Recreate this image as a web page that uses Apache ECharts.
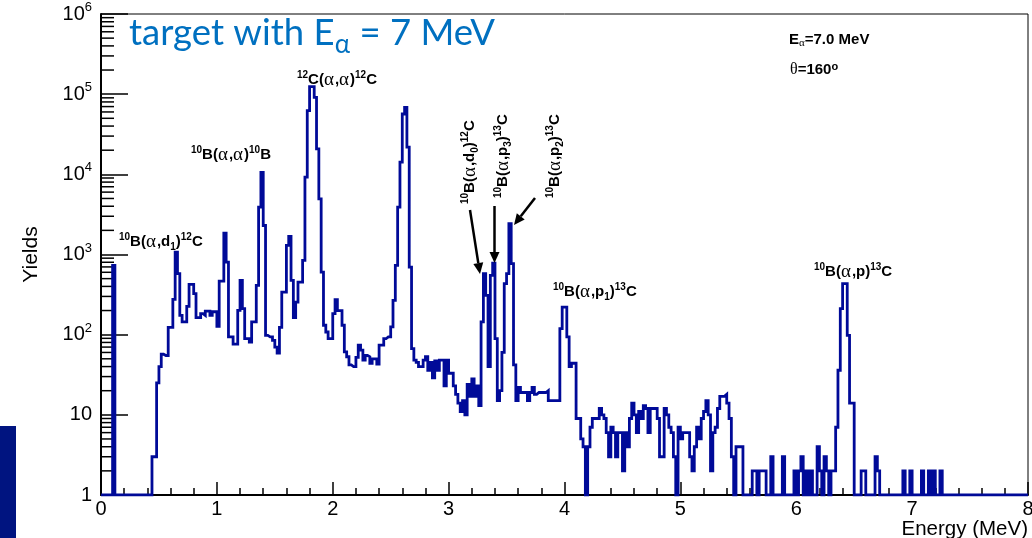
<!DOCTYPE html>
<html>
<head>
<meta charset="utf-8">
<script src="https://cdn.jsdelivr.net/npm/echarts@6/dist/echarts.min.js"></script>
<style>
  html, body { margin: 0; padding: 0; background: #ffffff; }
  #chart { width: 1032px; height: 538px; }
</style>
</head>
<body>
<div id="chart"></div>
<script>
// Spectrum channels: 0.02 MeV wide, counts per channel (0 = empty channel)
const BIN_WIDTH = 0.02;

const yield0to1MeV = [
  0, 0, 0, 0, 0, 730, 0, 0, 0, 0,
  0, 0, 0, 0, 0, 0, 0, 0, 0, 0,
  0, 0, 3, 3, 25, 40, 57, 55, 55, 123,
  123, 276, 1070, 577, 174, 144, 144, 226, 425, 425,
  325, 163, 163, 183, 174, 197, 197, 174, 193, 193
];
const yield1to2MeV = [
  127, 466, 466, 1850, 804, 94, 94, 76, 76, 201,
  476, 211, 89, 89, 81, 144, 144, 412, 3890, 10600,
  2300, 98, 94, 94, 85, 70, 59, 123, 340, 340,
  1300, 1680, 476, 163, 255, 453, 453, 845, 9230, 62300,
  124000, 124000, 91200, 20800, 4950, 604, 131, 108, 89, 89
];
const yield2to3MeV = [
  183, 273, 200, 200, 131, 61, 53, 42, 40, 40,
  52, 74, 64, 48, 55, 53, 44, 50, 50, 43,
  74, 74, 89, 94, 94, 125, 268, 731, 3890, 14200,
  56600, 68500, 21800, 697, 67, 48, 45, 40, 40, 48,
  53, 36, 45, 29, 47, 36, 48, 48, 23, 48
];
const yield3to4MeV = [
  33, 33, 23, 18, 14, 11, 15, 10, 24, 17,
  28, 17, 23, 13, 144, 577, 310, 40, 550, 782,
  89, 15, 20, 60, 434, 577, 2420, 771, 42, 15,
  22, 19, 19, 19, 15, 19, 22, 18, 19, 19,
  19, 19, 20, 15, 15, 15, 15, 15, 119, 220
];
const yield4to5MeV = [
  220, 94, 40, 44, 44, 9, 9, 5, 4, 0,
  4, 7, 9, 9, 9, 12, 10, 9, 6, 3,
  7, 6, 3, 6, 6, 2, 6, 4, 9, 14,
  10, 6, 11, 9, 13, 12, 6, 12, 12, 12,
  9, 3, 3, 12, 10, 7, 6, 3, 0, 7
];
const yield5to6MeV = [
  5, 6, 6, 6, 3, 2, 4, 7, 5, 9,
  11, 15, 10, 2, 6, 7, 12, 17, 17, 18,
  14, 9, 3, 0, 4, 4, 4, 0, 0, 0,
  0, 2, 2, 0, 2, 2, 2, 0, 0, 3,
  0, 0, 0, 0, 3, 0, 0, 0, 0, 2
];
const yield6to7MeV = [
  0, 2, 3, 0, 2, 0, 2, 0, 0, 4,
  2, 0, 3, 2, 0, 2, 2, 7, 36, 211,
  434, 434, 98, 14, 14, 0, 0, 0, 2, 2,
  0, 0, 0, 0, 3, 2, 0, 0, 0, 0,
  0, 0, 0, 0, 0, 0, 2, 0, 0, 2
];
const yield7to8MeV = [
  0, 0, 0, 0, 2, 0, 0, 2, 0, 2,
  0, 0, 2, 0, 0, 0, 0, 0, 0, 0,
  0, 0, 0, 0, 0, 0, 0, 0, 0, 0,
  0, 0, 0, 0, 0, 0, 0, 0, 0, 0,
  0, 0, 0, 0, 0, 0, 0, 0, 0, 0
];

// Axis ticks
const energyTicks = [0, 1, 2, 3, 4, 5, 6, 7, 8];
const yieldDecades = [0, 1, 2, 3, 4, 5, 6];   // exponents of 10

// Texts
const xAxisTitle = 'Energy (MeV)';
const yAxisTitle = 'Yields';
const headline = '{m|target with E}{sub|α}{m| = 7 MeV}';
const beamText = '{b|E}{sa|α}{b|=7.0 MeV}';
const angleText = '{g|θ}{b|=160}{sup|o}';
const labelD1 = [['sup', '10'], ['b', 'B('], ['g', 'α'], ['b', ',d'], ['sub', '1'], ['b', ')'], ['sup', '12'], ['b', 'C']];
const labelAA = [['sup', '10'], ['b', 'B('], ['g', 'α'], ['b', ','], ['g', 'α'], ['b', ')'], ['sup', '10'], ['b', 'B']];
const labelC12 = [['sup', '12'], ['b', 'C('], ['g', 'α'], ['b', ','], ['g', 'α'], ['b', ')'], ['sup', '12'], ['b', 'C']];
const labelD0 = [['sup', '10'], ['b', 'B('], ['g', 'α'], ['b', ',d'], ['sub', '0'], ['b', ')'], ['sup', '12'], ['b', 'C']];
const labelP3 = [['sup', '10'], ['b', 'B('], ['g', 'α'], ['b', ',p'], ['sub', '3'], ['b', ')'], ['sup', '13'], ['b', 'C']];
const labelP2 = [['sup', '10'], ['b', 'B('], ['g', 'α'], ['b', ',p'], ['sub', '2'], ['b', ')'], ['sup', '13'], ['b', 'C']];
const labelP1 = [['sup', '10'], ['b', 'B('], ['g', 'α'], ['b', ',p'], ['sub', '1'], ['b', ')'], ['sup', '13'], ['b', 'C']];
const labelP0 = [['sup', '10'], ['b', 'B('], ['g', 'α'], ['b', ',p)'], ['sup', '13'], ['b', 'C']];

// ---------------------------------------------------------------
const SANS = '"Liberation Sans", Arial, Helvetica, sans-serif';
const GREEK = '"Liberation Serif", "DejaVu Serif", serif';
const SLIDE = 'Lato, "Open Sans", sans-serif';
const LINE_BLUE = '#000a98';
const FLOOR = 1;   // empty channels sit on the bottom of the log axis

const counts = [].concat(yield0to1MeV, yield1to2MeV, yield2to3MeV, yield3to4MeV,
                         yield4to5MeV, yield5to6MeV, yield6to7MeV, yield7to8MeV);
const histPoints = counts.map((c, i) => [i * BIN_WIDTH, Math.max(c, FLOOR)]);
histPoints.push([counts.length * BIN_WIDTH, Math.max(counts[counts.length - 1], FLOOR)]);

// log minor ticks: 2..9 x 10^n
const minorYTicks = [];
for (let d = 0; d < yieldDecades.length - 1; d++) {
  for (let m = 2; m <= 9; m++) minorYTicks.push([0, m * Math.pow(10, yieldDecades[d])]);
}

const toRich = parts => parts.map(([k, t]) => '{' + k + '|' + t + '}').join('');

const annoRich = {
  b:   { fontFamily: SANS, fontWeight: 'bold', fontSize: 15, lineHeight: 20, verticalAlign: 'middle', fill: '#000' },
  g:   { fontFamily: GREEK, fontSize: 19, lineHeight: 20, verticalAlign: 'middle', fill: '#000', padding: [0, 1, 0, 0] },
  sup: { fontFamily: SANS, fontWeight: 'bold', fontSize: 10, lineHeight: 10, verticalAlign: 'top', fill: '#000' },
  sub: { fontFamily: SANS, fontWeight: 'bold', fontSize: 10, lineHeight: 10, verticalAlign: 'bottom', fill: '#000' }
};

function anno(parts, x, y, rotated) {
  return {
    type: 'text', x: x, y: y, rotation: rotated ? Math.PI / 2 : 0, z: 100,
    style: { text: toRich(parts), rich: annoRich, align: 'left', verticalAlign: 'bottom' }
  };
}

function arrow(x1, y1, x2, y2) {
  const ang = Math.atan2(y2 - y1, x2 - x1);
  const len = 11, half = 5;
  const bx = x2 - len * Math.cos(ang), by = y2 - len * Math.sin(ang);
  const nx = -Math.sin(ang) * half, ny = Math.cos(ang) * half;
  return [
    { type: 'line', z: 100, shape: { x1: x1, y1: y1, x2: bx, y2: by }, style: { stroke: '#000', lineWidth: 2.5 } },
    { type: 'polygon', z: 100, shape: { points: [[x2, y2], [bx + nx, by + ny], [bx - nx, by - ny]] }, style: { fill: '#000' } }
  ];
}

const chart = echarts.init(document.getElementById('chart'), null, { renderer: 'canvas' });

chart.setOption({
  animation: false,
  backgroundColor: '#ffffff',
  grid: {
    left: 101, right: 4, top: 14, bottom: 43,
    containLabel: false, outerBoundsMode: 'none',
    show: true, borderColor: '#000', borderWidth: 1
  },
  xAxis: {
    type: 'value', min: energyTicks[0], max: energyTicks[energyTicks.length - 1], interval: 1,
    name: xAxisTitle, nameLocation: 'end', nameGap: 0,
    nameTextStyle: { fontFamily: SANS, fontSize: 20.5, color: '#000', align: 'right', verticalAlign: 'top', padding: [24, 0, 0, 0] },
    axisLine: { show: true, onZero: false, lineStyle: { color: '#000', width: 2 } },
    axisTick: { show: true, inside: true, length: 13, lineStyle: { color: '#000', width: 1.5 } },
    minorTick: { show: true, splitNumber: 5, length: 7, lineStyle: { color: '#000', width: 1.5 } },
    splitLine: { show: false },
    axisLabel: { fontFamily: SANS, fontSize: 20, color: '#000', margin: 4, showMinLabel: true, showMaxLabel: true, hideOverlap: false }
  },
  yAxis: {
    type: 'log', logBase: 10, min: Math.pow(10, yieldDecades[0]), max: Math.pow(10, yieldDecades[yieldDecades.length - 1]),
    splitNumber: 6,
    name: yAxisTitle, nameLocation: 'middle', nameRotate: 90, nameGap: 59,
    nameTextStyle: { fontFamily: SANS, fontSize: 21, color: '#000' },
    axisLine: { show: true, lineStyle: { color: '#000', width: 2 } },
    axisTick: { show: true, inside: true, length: 27, lineStyle: { color: '#000', width: 1.5 } },
    minorTick: { show: false },
    splitLine: { show: false },
    axisLabel: {
      fontFamily: SANS, fontSize: 20, color: '#000', margin: 9, lineHeight: 26,
      showMinLabel: true, showMaxLabel: true, hideOverlap: false,
      formatter: v => {
        const e = Math.round(Math.log10(v));
        if (e === 0) return '1';
        if (e === 1) return '10';
        return '10{e|' + e + '}';
      },
      rich: { e: { fontFamily: SANS, fontSize: 13, lineHeight: 13, verticalAlign: 'top', color: '#000' } }
    }
  },
  series: [
    {
      type: 'line', step: 'end', data: histPoints, showSymbol: false, symbol: 'none',
      lineStyle: { color: LINE_BLUE, width: 2.8, join: 'miter' }, z: 5, clip: true
    },
    {
      type: 'custom', data: minorYTicks, silent: true, clip: false, z: 4,
      renderItem: (params, api) => {
        const p = api.coord([api.value(0), api.value(1)]);
        return { type: 'line', shape: { x1: p[0], y1: p[1], x2: p[0] + 13, y2: p[1] }, style: { stroke: '#000', lineWidth: 1.5 } };
      }
    }
  ],
  graphic: [
    { type: 'rect', z: 100, shape: { x: 0, y: 426, width: 16, height: 112 }, style: { fill: '#001480' } },
    {
      type: 'text', x: 129, y: 15, z: 100,
      style: {
        text: headline, align: 'left', verticalAlign: 'top',
        rich: {
          m: { fill: '#0070C0', fontFamily: SLIDE, fontSize: 36.5, lineHeight: 40, verticalAlign: 'top' },
          sub: { fill: '#0070C0', fontFamily: SLIDE, fontSize: 26, lineHeight: 26, verticalAlign: 'top', padding: [17, 0, 0, 0] }
        }
      }
    },
    {
      type: 'text', x: 789, y: 49, z: 100,
      style: {
        text: beamText, align: 'left', verticalAlign: 'bottom',
        rich: {
          b: { fontFamily: SANS, fontWeight: 'bold', fontSize: 15, lineHeight: 18, verticalAlign: 'middle', fill: '#000' },
          sa: { fontFamily: GREEK, fontSize: 11, lineHeight: 10, verticalAlign: 'bottom', fill: '#000' }
        }
      }
    },
    {
      type: 'text', x: 790, y: 79, z: 100,
      style: {
        text: angleText, align: 'left', verticalAlign: 'bottom',
        rich: {
          b: { fontFamily: SANS, fontWeight: 'bold', fontSize: 15, lineHeight: 18, verticalAlign: 'middle', fill: '#000' },
          g: { fontFamily: GREEK, fontSize: 16, lineHeight: 18, verticalAlign: 'middle', fill: '#000' },
          sup: { fontFamily: SANS, fontWeight: 'bold', fontSize: 11, lineHeight: 10, verticalAlign: 'top', fill: '#000' }
        }
      }
    },
    anno(labelD1, 119, 252),
    anno(labelAA, 191, 165),
    anno(labelC12, 297, 90),
    anno(labelP1, 553, 302),
    anno(labelP0, 814, 282),
    anno(labelD0, 480, 204, true),
    anno(labelP3, 513, 198, true),
    anno(labelP2, 565, 198, true),
    ...arrow(470, 210, 480, 274),
    ...arrow(494.5, 206, 494.5, 263),
    ...arrow(535, 198, 514, 225)
  ]
});
</script>
</body>
</html>
